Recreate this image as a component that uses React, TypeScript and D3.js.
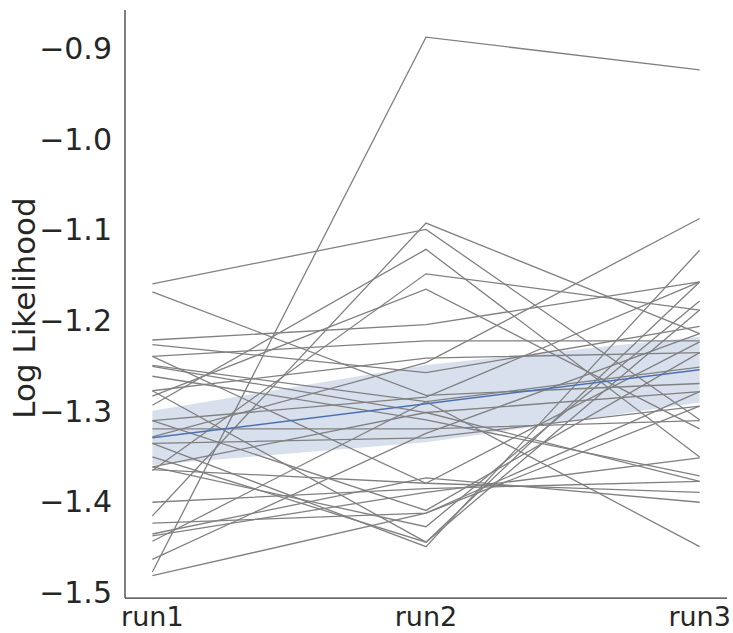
import React from 'react'
import * as d3 from 'd3'

const runs = ['run1', 'run2', 'run3']
const yTicks = [-1.5, -1.4, -1.3, -1.2, -1.1, -1.0, -0.9]

// one value per subject, per run
const run1 = [
  -1.478, -1.16, -1.169, -1.416, -1.294, -1.366, -1.284, -1.222, -1.227, -1.24, -1.251,
  -1.262, -1.278, -1.311, -1.32, -1.329, -1.336, -1.351, -1.362, -1.365, -1.401, -1.424,
  -1.436, -1.438, -1.444, -1.464, -1.482, -1.24, -1.311, -1.278, -1.362, -1.336, -1.25,
]
const run2 = [
  -0.888, -1.1, -1.283, -1.093, -1.122, -1.149, -1.166, -1.205, -1.258, -1.223, -1.302,
  -1.31, -1.242, -1.285, -1.32, -1.247, -1.45, -1.445, -1.428, -1.38, -1.386, -1.413,
  -1.374, -1.39, -1.29, -1.325, -1.413, -1.38, -1.41, -1.445, -1.302, -1.33, -1.29,
]
const run3 = [
  -0.924, -1.31, -1.27, -1.215, -1.351, -1.189, -1.32, -1.158, -1.207, -1.223, -1.279,
  -1.372, -1.236, -1.158, -1.311, -1.088, -1.123, -1.158, -1.179, -1.39, -1.378, -1.295,
  -1.401, -1.352, -1.45, -1.215, -1.279, -1.224, -1.236, -1.189, -1.378, -1.295, -1.252,
]

const W = 733
const H = 633
const FONT = 'DejaVu Sans, sans-serif'

export default function App() {
  const x = d3.scaleLinear().domain([-0.1, 2.1]).range([125, 727])
  const y = d3.scaleLinear().domain([-1.5066, -0.858]).range([598, 10])

  const cols = [run1, run2, run3]
  const subjects = run1.map((_, i) => cols.map(c => c[i]))

  // mean and 95% interval per run
  const stats = cols.map((c, i) => {
    const m = d3.mean(c) as number
    const sd = d3.deviation(c) as number
    const h = (1.96 * sd) / Math.sqrt(c.length)
    return { i, m, lo: m - h, hi: m + h }
  })

  const line = d3.line<number>().x((_, i) => x(i)).y(d => y(d))
  const band = d3
    .area<{ i: number; lo: number; hi: number }>()
    .x(d => x(d.i))
    .y0(d => y(d.lo))
    .y1(d => y(d.hi))
  const meanLine = d3
    .line<{ i: number; m: number }>()
    .x(d => x(d.i))
    .y(d => y(d.m))

  return (
    <div style={{ position: 'absolute', left: 0, top: 0 }}>
      <svg width={W} height={H} style={{ display: 'block', background: '#fff' }}>
        <path d={band(stats) as string} fill="#4c72b0" fillOpacity={0.22} stroke="none" />
        {subjects.map((s, i) => (
          <path key={i} d={line(s) as string} fill="none" stroke="#808080" strokeWidth={1.3} />
        ))}
        <path d={meanLine(stats) as string} fill="none" stroke="#4c72b0" strokeWidth={1.5} />

        <line x1={125} x2={125} y1={10} y2={598} stroke="#333" strokeWidth={1.25} />
        <line x1={125} x2={727} y1={598} y2={598} stroke="#333" strokeWidth={1.25} />

        {yTicks.map(t => (
          <text
            key={t}
            x={112}
            y={y(t)}
            dy="0.36em"
            textAnchor="end"
            fontFamily={FONT}
            fontSize={30}
            fill="#262626"
          >
            {d3.format('.1f')(t).replace('-', '\u2212')}
          </text>
        ))}
        {runs.map((r, i) => (
          <text
            key={r}
            x={x(i)}
            y={626}
            textAnchor="middle"
            fontFamily={FONT}
            fontSize={27}
            fill="#262626"
          >
            {r}
          </text>
        ))}
        <text
          transform="translate(35,308) rotate(-90)"
          textAnchor="middle"
          fontFamily={FONT}
          fontSize={31}
          fill="#262626"
        >
          Log Likelihood
        </text>
      </svg>
    </div>
  )
}
